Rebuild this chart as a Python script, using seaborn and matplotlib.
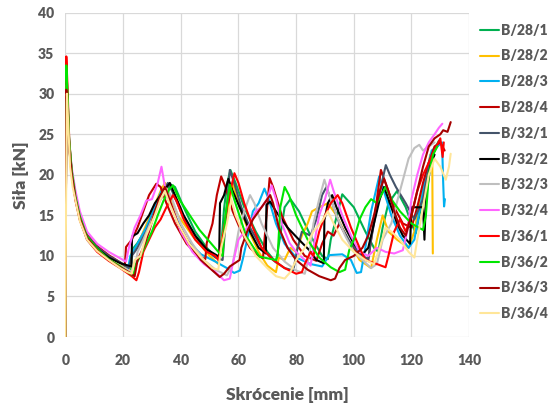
import pandas as pd
import seaborn as sns
import matplotlib.pyplot as plt

# punkty (skrócenie [mm], siła [kN])
b28_1 = [(0, 0), (0.3, 33.3), (0.7, 30), (1.3, 24), (2.2, 20.2), (3.5, 17.2), (5, 14.9), (7.5, 12.4),
         (11, 11), (15, 9.9), (19, 9.0), (22.5, 8.1), (23.2, 10.8), (25, 11.6), (27, 12.8), (29, 14.2),
         (31, 15.8), (33, 17.0), (35, 18.1), (36.5, 18.8), (38, 18.5), (41, 16), (45, 13), (49, 11),
         (53, 9.6), (54.2, 12), (55, 15.8), (56, 18.8), (57.2, 20.6), (59, 19), (62, 16), (66, 13),
         (70, 10.5), (73, 9.2), (74.5, 12.5), (76, 16), (78, 17), (81, 15.5), (85, 12.5), (89, 10),
         (91, 9.6), (92, 12), (94, 14.8), (96, 17.6), (100, 16), (104, 13), (107, 11), (108.5, 10.5),
         (110, 13.5), (112, 16.5), (115, 18), (118, 16), (120, 14), (121.5, 12.8), (123, 15.5),
         (125, 19), (127, 22), (128.5, 23.5), (129.5, 24.2)]
b28_2 = [(0, 0), (0.3, 31), (0.7, 28.5), (1.3, 23.5), (2.2, 20), (3.5, 17), (5, 14.6), (7.5, 12.2),
         (11, 10.8), (15, 9.7), (19, 8.9), (22, 8.2), (23, 10.5), (25, 11.2), (27, 13), (30, 15.5),
         (33, 18), (34.5, 19), (36, 17.5), (39, 15), (44, 12.5), (50, 10), (53, 9.0), (54, 11.5),
         (56, 15), (58, 19), (59.5, 17), (63, 13.5), (67, 10.5), (70, 8.8), (73, 8.0), (74, 9.8),
         (76, 9.5), (78, 11), (80, 10.5), (82, 12.5), (84, 14), (85.5, 15.5), (88, 16), (91, 16.5),
         (94, 15), (98, 12), (102, 9.5), (106, 8.5), (108, 12), (110, 15), (112, 13), (115, 12),
         (119, 11), (121, 13), (123, 17), (125, 19.5), (126.5, 22.5), (127.2, 22), (127.4, 10.3)]
b28_3 = [(0, 0), (0.3, 32), (0.7, 29), (1.3, 23.8), (2.2, 20.1), (3.5, 17), (5, 14.5), (7.5, 12),
         (11, 10.6), (15, 9.5), (19, 8.6), (21.5, 8.0), (22.5, 10), (25, 11.5), (28, 13.5), (31, 16),
         (33.5, 18.2), (35, 17.5), (38, 15), (42, 12), (47, 10.2), (52, 9.3), (56, 8.5), (58.5, 7.9),
         (60.5, 8.2), (61.5, 9.6), (63, 12), (65, 15.5), (67, 16.5), (69, 18.3), (70.5, 17), (73, 14),
         (76, 11.5), (80, 9.8), (85, 9.0), (89, 8.7), (91.5, 10.1), (96, 10.2), (99, 9.5), (101, 7.9),
         (102.5, 8), (104, 11), (106, 15.5), (108.8, 19.8), (110, 18.5), (113, 15), (116, 12.5),
         (119, 11), (121, 12), (123, 16), (125, 20), (127, 23), (129, 23.5), (130.6, 24), (131, 19),
         (131.3, 16.1), (131.6, 17)]
b28_4 = [(0, 0), (0.3, 31), (0.7, 28), (1.3, 23.5), (2.2, 20.3), (3.5, 17.4), (5, 15), (7.5, 12.6),
         (11, 11.2), (15, 10.1), (19, 9.2), (20.6, 8.8), (21, 11.1), (23, 12), (25, 13.5), (27, 15.5),
         (29, 17.5), (31.5, 18.9), (33, 18.5), (35, 16.5), (38, 14), (42, 11.5), (46, 10), (48.5, 9.6),
         (49, 11.6), (51, 14), (52.5, 17.5), (54, 19.8), (55.5, 18.5), (58, 15.5), (61, 13), (64, 11),
         (67, 10), (68.5, 9.7), (69.5, 14), (70.8, 19.6), (72, 18.5), (75, 15), (79, 12), (83, 10),
         (87, 9.4), (89, 11.5), (91, 13), (93, 12.5), (95, 14), (98, 12), (102, 10), (105, 9.5),
         (106, 12), (108, 17), (109.4, 20.6), (111, 19), (114, 16), (117, 14), (120, 13.5), (122, 16),
         (124, 19), (126, 21.5), (128, 23.5), (130, 24), (131.5, 23)]
b32_1 = [(0, 0), (0.3, 32), (0.7, 29), (1.3, 24), (2.2, 20.4), (3.5, 17.3), (5, 14.8), (7.5, 12.5),
         (11, 11.1), (15, 10), (19, 9.2), (22, 8.5), (23, 10), (25, 11), (28, 13), (31, 15.5), (34, 18),
         (35.5, 19), (37, 18), (40, 15.5), (44, 13), (48, 11), (52, 9.8), (54.5, 9.5), (55.5, 14),
         (57, 20.6), (58.5, 19), (61, 16), (64, 13.5), (68, 11), (72, 9.5), (76, 8.5), (79, 8.2),
         (80.5, 11), (82, 13), (85, 12.5), (87, 14.5), (89, 17.5), (90.5, 18.5), (92, 17), (95, 14),
         (99, 11.5), (103, 10), (105, 9.6), (106, 12), (108, 16), (110, 19.5), (111.1, 21.2),
         (112.5, 20), (114.6, 18.5), (118, 16.5), (121, 14.5), (124, 17), (126, 21), (128, 23)]
b32_2 = [(0, 0), (0.3, 31.5), (0.7, 28.5), (1.3, 23.6), (2.2, 20.2), (3.5, 17.1), (5, 14.7), (7.5, 12.3),
         (11, 10.9), (15, 9.8), (19, 9.1), (22.9, 8.7), (23.1, 12.4), (25, 12.8), (27, 14), (29, 15),
         (31, 16.5), (33, 17.5), (36.2, 19), (38, 17.5), (41, 15), (45, 12.5), (49, 10.8), (53.3, 9.9),
         (53.6, 16.5), (55, 17.5), (56.5, 19.5), (58, 18), (61, 15.5), (64, 13), (67, 11), (69.5, 10.3),
         (69.7, 16.3), (71, 16.7), (73, 15.5), (77, 13.5), (81, 12), (84.6, 10.7), (87, 9.5),
         (89.6, 9.1), (89.8, 14.4), (91, 16.5), (92.5, 17.5), (94, 16), (97, 13.5), (100, 11.5),
         (103, 10.2), (105, 11), (107, 14), (109, 17), (110.5, 18.5), (112, 17), (115, 14), (117, 12.5),
         (119.5, 11.5), (120, 16), (124, 16), (124.5, 12), (125, 17), (126.5, 21), (128, 22.5)]
b32_3 = [(0, 0), (0.3, 31), (0.7, 28), (1.3, 23.2), (2.2, 19.9), (3.5, 16.9), (5, 14.5), (7.5, 12.1),
         (11, 10.6), (15, 9.5), (19, 8.8), (22, 8.2), (24, 8), (25, 10.5), (27, 12), (30, 14.5), (33, 17),
         (35, 18.3), (36.5, 17.5), (40, 14), (44, 11.5), (48, 9.5), (52, 8.3), (56, 7.6), (58, 9),
         (60, 13), (62, 15.5), (64, 17.5), (65.5, 16.5), (68, 14), (72, 11), (76, 9.3), (80, 8.2),
         (83, 7.8), (84.5, 10), (86, 14), (88, 17), (89.8, 19.4), (91, 18), (94, 15), (97, 12.5),
         (100, 10.5), (103, 9.5), (106, 8.5), (108, 9), (110, 12), (113, 14), (116, 18), (119, 22),
         (121, 23.3), (122.7, 23.7), (124, 23), (126, 23.5), (128, 24)]
b32_4 = [(0, 0), (0.3, 31), (0.7, 28.5), (1.3, 24), (2.2, 20.8), (3.5, 18), (5, 15.5), (7.5, 13),
         (11, 11.5), (15, 10.5), (19, 9.7), (21, 9.3), (22, 11), (24, 13.5), (26, 15), (28, 16.8),
         (30, 17), (32, 19), (33.3, 21), (34.5, 18.5), (37, 16), (40, 13), (44, 10.5), (48, 9), (52, 8),
         (55, 7), (57, 7.2), (58, 9), (60, 12), (62, 13), (64, 14), (66, 15.5), (68, 16), (70, 17),
         (71.5, 18.7), (73, 17), (75, 14), (77.7, 11.6), (80, 10.5), (83, 9.5), (85, 8.8), (86, 11),
         (88, 15), (90, 17), (91.8, 19.4), (93, 18), (96, 15), (99, 12.5), (102, 10.5), (105, 10),
         (108, 11), (111, 10.5), (114, 10.3), (117, 10.7), (118.5, 13), (120, 17), (122, 20),
         (124, 22.5), (126, 24), (128, 25), (129.5, 25.8), (130.7, 26.3)]
b36_1 = [(0, 0), (0.3, 34.6), (0.7, 31), (1.3, 24.5), (2.2, 20), (3.5, 16.8), (5, 14.4), (7.5, 12),
         (11, 10.5), (15, 9.4), (19, 8.5), (23, 7.5), (24.6, 7.0), (25.5, 8), (27, 10.5), (29, 12),
         (31, 13.5), (33, 14.5), (35, 16), (37.3, 17.5), (38.5, 16.8), (41, 14.5), (45, 12), (49, 10.5),
         (52, 10), (53, 9.5), (54.5, 12), (56, 16), (57.5, 18.5), (58.6, 20.2), (60, 19), (62, 16.5),
         (65, 13.5), (68, 11), (72, 9.5), (76, 8.5), (80, 7.8), (82, 8), (83, 9), (85, 10.5), (86, 10),
         (88, 13), (90, 15), (92, 16.5), (94.4, 17.5), (96, 16.5), (99, 13.5), (102, 11), (104, 9.5),
         (108, 9), (111, 8.6), (112, 10), (114, 13), (116, 14.5), (118, 13), (120, 15), (122, 18),
         (124, 20), (126, 21.5), (128, 23), (130, 24.5), (130.8, 22.2), (131.2, 24)]
b36_2 = [(0, 0), (0.3, 33.5), (0.7, 30), (1.3, 24.2), (2.2, 20.5), (3.5, 17.3), (5, 14.9), (7.5, 12.4),
         (11, 10.9), (15, 9.6), (19, 8.7), (22, 7.9), (23.5, 7.6), (24.5, 9), (26, 10), (28, 11.5),
         (30, 13), (32, 15), (34, 16.8), (36, 18.2), (37.3, 18.7), (39.6, 16.9), (46.5, 13.2),
         (53.5, 10.3), (54.5, 10), (55.5, 15), (57, 18.8), (58.5, 17), (62.7, 12.4), (67.3, 9.9),
         (73, 9.5), (73.6, 10), (74.5, 16), (76, 18.5), (77.5, 17.5), (80, 15), (84, 12), (88, 9.8),
         (92, 8.6), (95, 8), (97, 8.3), (98.4, 10.7), (100, 12), (102, 14.5), (104, 16), (106, 17),
         (108, 16.5), (111, 18.5), (113, 17), (116, 15.5), (120, 14), (124, 13.2), (125, 15), (126, 20),
         (127.5, 22.5), (129, 23.5)]
b36_3 = [(0, 0), (0.3, 30.5), (0.7, 28), (1.3, 23.3), (2.2, 20), (3.5, 17), (5, 14.6), (7.5, 12.2),
         (11, 10.7), (15, 9.5), (19, 8.6), (22, 8), (24, 7.5), (25, 9.5), (27, 11), (29, 13),
         (31, 15.5), (33, 17.5), (34.5, 18.5), (36, 17), (39, 14), (43, 11.5), (47, 9.5), (51, 8.2),
         (53.5, 7.4), (55, 7.8), (57, 8.7), (60.4, 9.5), (61, 11), (63, 13), (65, 14.5), (67, 15.5),
         (69, 16.5), (71, 17.5), (72, 16.5), (74, 13.5), (77, 11), (80, 9.5), (84, 8.3), (88, 7.5),
         (92, 7.0), (93.5, 7.2), (95, 8.5), (97, 9.5), (100, 10), (103, 11), (105, 12.5), (107, 15),
         (109, 18), (110.5, 19.5), (112, 18), (114, 15.5), (116, 13.5), (118, 12.5), (120, 15),
         (122, 18), (124, 21), (126, 23.5), (128, 24.5), (130, 25), (131, 25.5), (132.5, 25.3),
         (133.6, 26.5)]
b36_4 = [(0, 0), (0.2, 16), (0.5, 30), (1.0, 26), (1.6, 21), (2.5, 18.5), (3.5, 16.8), (5, 14.3),
         (7.5, 12), (11, 10.6), (15, 9.5), (19, 8.5), (21.5, 8), (23, 7.8), (24, 9.5), (26, 10),
         (28, 12.5), (31, 15), (33, 17), (34.5, 18), (36, 16.5), (39, 14), (43, 11.5), (47, 9.8),
         (51, 8.5), (53, 8.3), (54, 11), (56, 14), (57.5, 17), (59, 15), (62, 12.5), (66, 10),
         (70, 8.5), (73, 7.5), (76, 7.2), (78, 8), (80, 9.5), (83, 11), (86, 13), (89, 14.3),
         (91, 15.5), (93, 14), (96, 12), (100, 10.5), (104, 9.5), (107, 9), (109, 11), (111, 13.5),
         (113, 13), (116, 12), (119, 10.5), (121, 9.8), (122, 12), (124, 16), (126, 20), (128, 22),
         (130, 21), (131.9, 19.4), (133, 21), (133.6, 22.6)]

series = {
    'B/28/1': b28_1, 'B/28/2': b28_2, 'B/28/3': b28_3, 'B/28/4': b28_4,
    'B/32/1': b32_1, 'B/32/2': b32_2, 'B/32/3': b32_3, 'B/32/4': b32_4,
    'B/36/1': b36_1, 'B/36/2': b36_2, 'B/36/3': b36_3, 'B/36/4': b36_4,
}
colors = ['#00B050', '#FFC000', '#00B0F0', '#C00000', '#44546A', '#000000',
          '#BFBFBF', '#FF66FF', '#FF0000', '#00E600', '#A50000', '#FFE699']

rows = []
for name, pts in series.items():
    for x, y in pts:
        rows.append((name, x, y))
df = pd.DataFrame(rows, columns=['probka', 'skrocenie', 'sila'])

sns.set_style('whitegrid', {'grid.color': '#D9D9D9'})
plt.rcParams['font.family'] = ['Lato', 'DejaVu Sans']
grey = '#595959'

fig = plt.figure(figsize=(5.5, 4.08), dpi=100)
ax = fig.add_axes([0.119, 0.174, 0.734, 0.795])

sns.lineplot(data=df, x='skrocenie', y='sila', hue='probka', palette=colors,
             estimator=None, sort=False, linewidth=1.5, ax=ax)

ax.set_xlim(0, 140)
ax.set_ylim(0, 40)
ax.set_xticks(range(0, 141, 20))
ax.set_yticks(range(0, 41, 5))
ax.grid(True, color='#D9D9D9', linewidth=0.9)
for s in ax.spines.values():
    s.set_visible(False)
ax.tick_params(axis='y', length=0, pad=8, labelsize=10, labelcolor=grey)
ax.tick_params(axis='x', length=0, pad=12, labelsize=10, labelcolor=grey)
for lab in ax.get_xticklabels() + ax.get_yticklabels():
    lab.set_fontweight('heavy')
ax.set_xlabel('')
ax.set_ylabel('')

fig.text(0.522, 0.031, 'Skrócenie [mm]', ha='center', va='center',
         fontsize=12.5, fontweight='heavy', color=grey)
fig.text(0.038, 0.571, 'Siła [kN]', ha='center', va='center', rotation=90,
         fontsize=12.5, fontweight='heavy', color=grey)

handles, labels = ax.get_legend_handles_labels()
ax.get_legend().remove()
leg = fig.legend(handles, labels, loc='upper left', bbox_to_anchor=(0.873, 0.942),
                 frameon=False, fontsize=10, handlelength=1.35, handletextpad=0.12,
                 labelspacing=0.92, borderpad=0, borderaxespad=0)
for t in leg.get_texts():
    t.set_color(grey)
    t.set_fontweight('heavy')

fig.savefig('out.png', dpi=100)
